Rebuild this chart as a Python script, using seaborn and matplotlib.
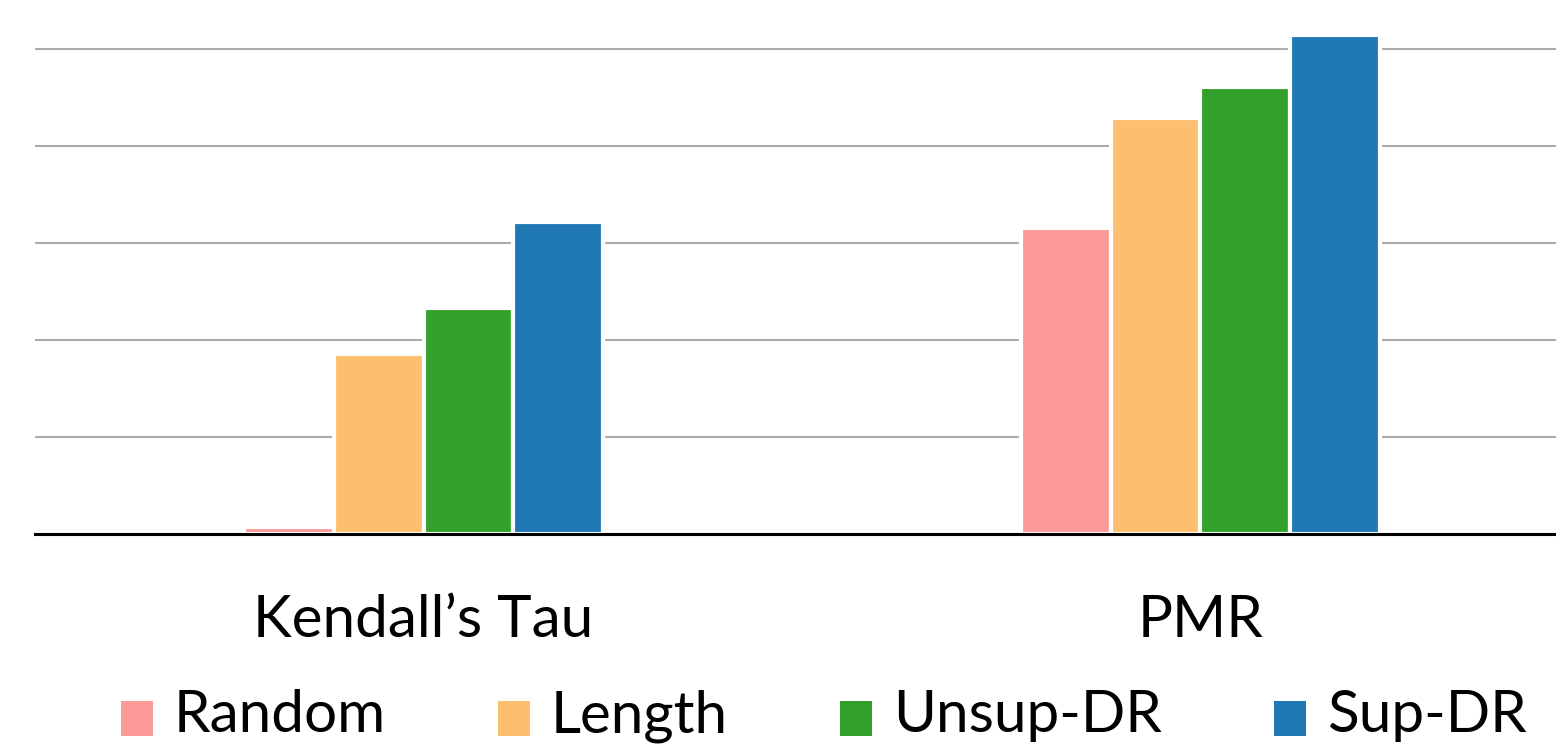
import matplotlib
matplotlib.use("Agg")
import matplotlib.pyplot as plt
import seaborn as sns
import pandas as pd

# Scores per metric for each ordering method
metrics = ["Kendall\u2019s Tau", "PMR"]
methods = ["Random", "Length", "Unsup-DR", "Sup-DR"]
kendall_tau = [0.7, 18.6, 23.3, 32.2]
pmr = [31.5, 42.9, 46.1, 51.4]
colors = ["#fb9a99", "#fdbf6f", "#33a02c", "#1f78b4"]
y_ticks = [0, 10, 20, 30, 40, 50]

rows = []
for metric, values in zip(metrics, [kendall_tau, pmr]):
    for method, v in zip(methods, values):
        rows.append({"metric": metric, "method": method, "value": v})
df = pd.DataFrame(rows)

sns.set_theme(style="white")
plt.rcParams["font.family"] = ["Lato", "DejaVu Sans"]
plt.rcParams["text.color"] = "black"
plt.rcParams["xtick.color"] = "black"

fig = plt.figure(figsize=(15.56, 7.46), dpi=100)
ax = fig.add_axes([0.0225, 0.2842, 0.9987, 0.7802])

sns.barplot(data=df, x="metric", y="value", hue="method", order=metrics,
            hue_order=methods, palette=colors, saturation=1, width=0.463,
            edgecolor="white", linewidth=3, ax=ax, zorder=3)

ax.set_xlim(-0.5, 1.5)
ax.set_ylim(0, 60)
ax.set_yticks(y_ticks)
ax.set_yticklabels([])
ax.yaxis.grid(True, color="#ababab", linewidth=1.5, zorder=0)
ax.set_axisbelow(True)
ax.tick_params(axis="both", length=0)
ax.tick_params(axis="x", labelsize=42, pad=43, labelcolor="black")
ax.set_xlabel("")
ax.set_ylabel("")
for side in ["left", "right", "top"]:
    ax.spines[side].set_visible(False)
ax.spines["bottom"].set_color("black")
ax.spines["bottom"].set_linewidth(2.2)
ax.spines["bottom"].set_zorder(5)

sns.move_legend(ax, "lower center", bbox_to_anchor=(0.5293, -0.0345),
                bbox_transform=fig.transFigure, ncol=4, frameon=False,
                title=None, fontsize=42, handlelength=0.55, handleheight=0.55,
                handletextpad=0.35, columnspacing=1.93, borderpad=0)
leg = ax.get_legend()
for p in leg.get_patches():
    p.set_linewidth(0)
    # sit the colour squares on the text baseline
    p.set_y(p.get_y() - 5)
for t in leg.get_texts():
    t.set_color("black")

fig.savefig("out.png", dpi=100)
